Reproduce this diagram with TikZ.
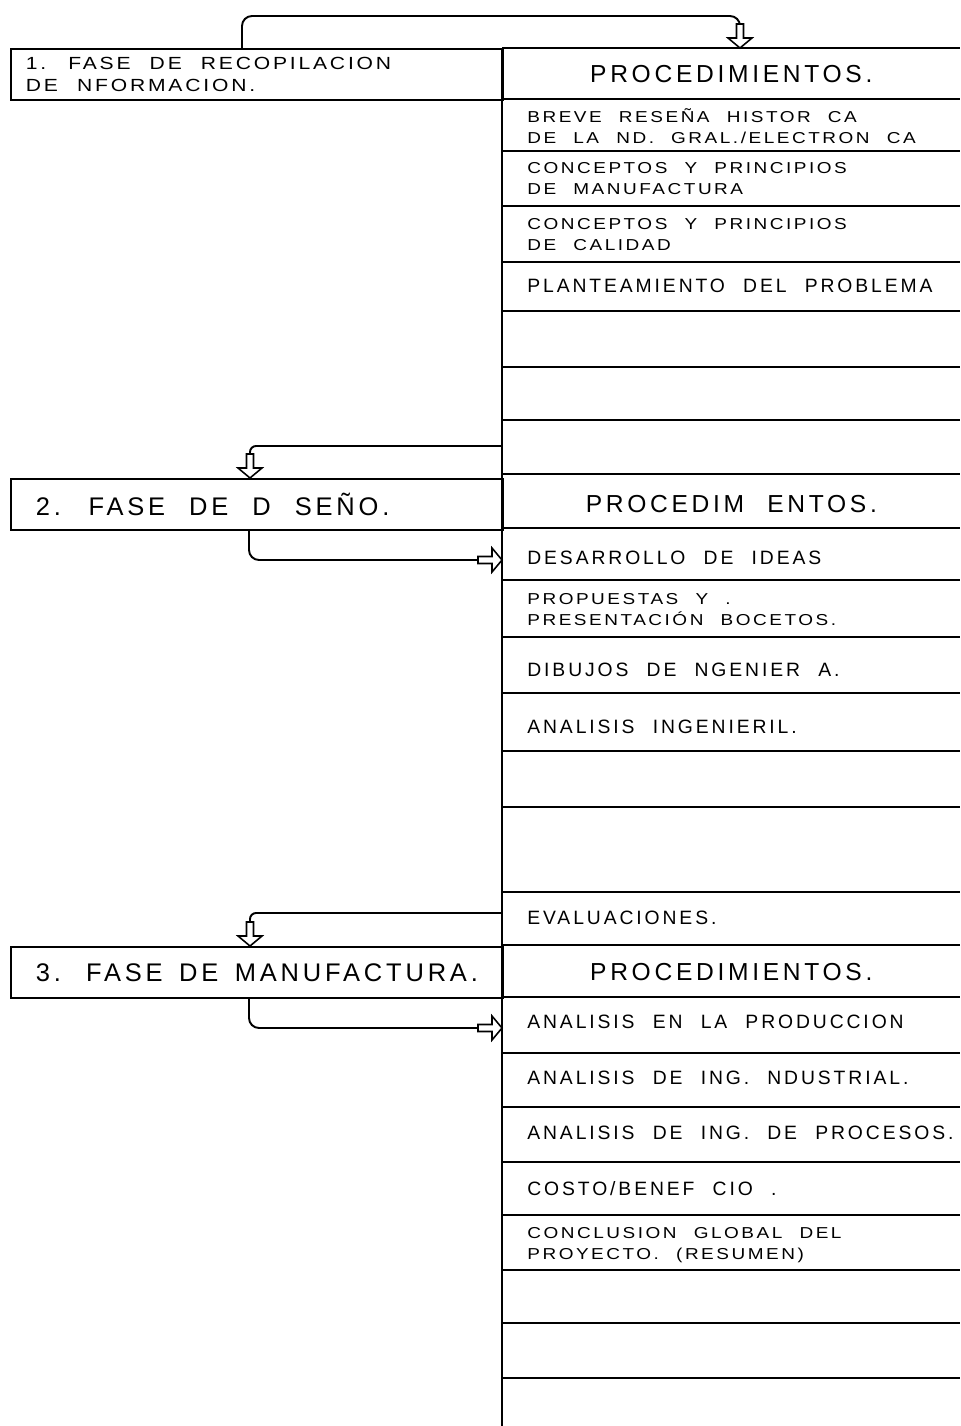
\documentclass[tikz,border=0pt]{standalone}
\usepackage{fontspec}
\setmainfont{Liberation Sans}[LetterSpace=15, WordSpace=2.2]
\newfontfamily\ancha{Liberation Sans}[LetterSpace=16, WordSpace=2.2, FakeStretch=1.2]
\usetikzlibrary{calc}

\tikzset{
  fase/.style={draw, line width=1.1pt, anchor=north west, minimum height=1.02cm, align=left},
  cabeza/.style={anchor=north west, minimum width=9.16cm, minimum height=1.02cm, inner sep=0pt, font=\fontsize{14}{16}\selectfont},
  renglon/.style={anchor=west, align=left, inner sep=0pt, font=\fontsize{11}{13}\selectfont},
  doble/.style={anchor=west, align=left, inner sep=0pt, font=\ancha\fontsize{9}{12}\selectfont},
  liga/.style={line width=1.1pt, rounded corners=0.2cm},
  flecha/.pic={\draw[line width=0.9pt, fill=white] (0,0) -- (-10,-12) -- (-10,-3.5) -- (-24,-3.5) -- (-24,3.5) -- (-10,3.5) -- (-10,12) -- cycle;}
}

\begin{document}
\begin{tikzpicture}[x=0.02cm, y=-0.02cm]
\useasboundingbox (0,0) rectangle (960,1426);

% fases
\node[fase, inner xsep=0.3cm, text width=9.24cm, font=\ancha\fontsize{10}{13}\selectfont] (f1) at (10,48) {\spaceskip=0pt\xspaceskip=0pt\relax 1. FASE DE RECOPILACION\\DE NFORMACION.};
\node[fase, inner xsep=0.5cm, text width=8.84cm, font=\fontsize{14.5}{16}\selectfont] (f2) at (10,478) {\spaceskip=0pt\xspaceskip=0pt\relax 2. FASE DE D SEÑO.};
\node[fase, inner xsep=0.5cm, text width=8.84cm, font=\fontsize{14.5}{16}\selectfont] (f3) at (10,946) {\spaceskip=0pt\xspaceskip=0pt\relax 3. FASE DE MANUFACTURA.};

% procedimientos
\node[cabeza] (p1) at (502,48) {PROCEDIMIENTOS.};
\node[cabeza] (p2) at (502,478) {PROCEDIM ENTOS.};
\node[cabeza] (p3) at (502,946) {PROCEDIMIENTOS.};

\coordinate (fin) at (502,1426);
\draw[line width=1.5pt] (p1.north west) -- (fin);
\foreach \y in {48,99,151,206,262,311,367,420,474,528,580,637,693,751,807,892,945,997,1053,1107,1162,1215,1270,1323,1378}
  \draw[line width=1.1pt] (502,\y) -- (960,\y);

\node[doble] (r1) at (527,126) {BREVE RESEÑA HISTOR CA\\DE LA ND. GRAL./ELECTRON CA};
\node[doble] (r2) at (527,179) {CONCEPTOS Y PRINCIPIOS\\DE MANUFACTURA};
\node[doble] (r3) at (527,235) {CONCEPTOS Y PRINCIPIOS\\DE CALIDAD};
\node[renglon] (r4) at (527,286) {PLANTEAMIENTO DEL PROBLEMA};

\node[renglon] (d1) at (527,558) {DESARROLLO DE IDEAS};
\node[doble] (d2) at (527,610) {PROPUESTAS Y .\\PRESENTACIÓN BOCETOS.};
\node[renglon] (d3) at (527,670) {DIBUJOS DE NGENIER A.};
\node[renglon] (d4) at (527,727) {ANALISIS INGENIERIL.};
\node[renglon] (d5) at (527,918) {EVALUACIONES.};

\node[renglon] (m1) at (527,1022) {ANALISIS EN LA PRODUCCION};
\node[renglon] (m2) at (527,1078) {ANALISIS DE ING. NDUSTRIAL.};
\node[renglon] (m3) at (527,1133) {ANALISIS DE ING. DE PROCESOS.};
\node[renglon] (m4) at (527,1189) {COSTO/BENEF CIO .};
\node[doble] (m5) at (527,1245) {CONCLUSION GLOBAL DEL\\PROYECTO. (RESUMEN)};

% ligas
\coordinate (k1) at (242,16);
\coordinate (k2) at (740,16);
\draw[liga] (f1.north -| k1) -- (k1) -- (k2) -- ++(0,10);
\pic[rotate=-90] at (p1.north -| k2) {flecha};

\coordinate (s2) at (502,446);
\coordinate (k3) at (250,446);
\draw[liga, rounded corners=0.12cm] (s2) -- (k3) -- ++(0,10);
\pic[rotate=-90] at (f2.north -| k3) {flecha};

\coordinate (k4) at (249,560);
\draw[liga] (f2.south -| k4) -- (k4) -- ($(k4 -| p2.west)+(-22,0)$);
\pic at (k4 -| p2.west) {flecha};

\coordinate (s3) at (502,913);
\coordinate (k5) at (250,913);
\draw[liga, rounded corners=0.12cm] (s3) -- (k5) -- ++(0,10);
\pic[rotate=-90] at (f3.north -| k5) {flecha};

\coordinate (k6) at (249,1028);
\draw[liga] (f3.south -| k6) -- (k6) -- ($(k6 -| p3.west)+(-22,0)$);
\pic at (k6 -| p3.west) {flecha};
\end{tikzpicture}
\end{document}
